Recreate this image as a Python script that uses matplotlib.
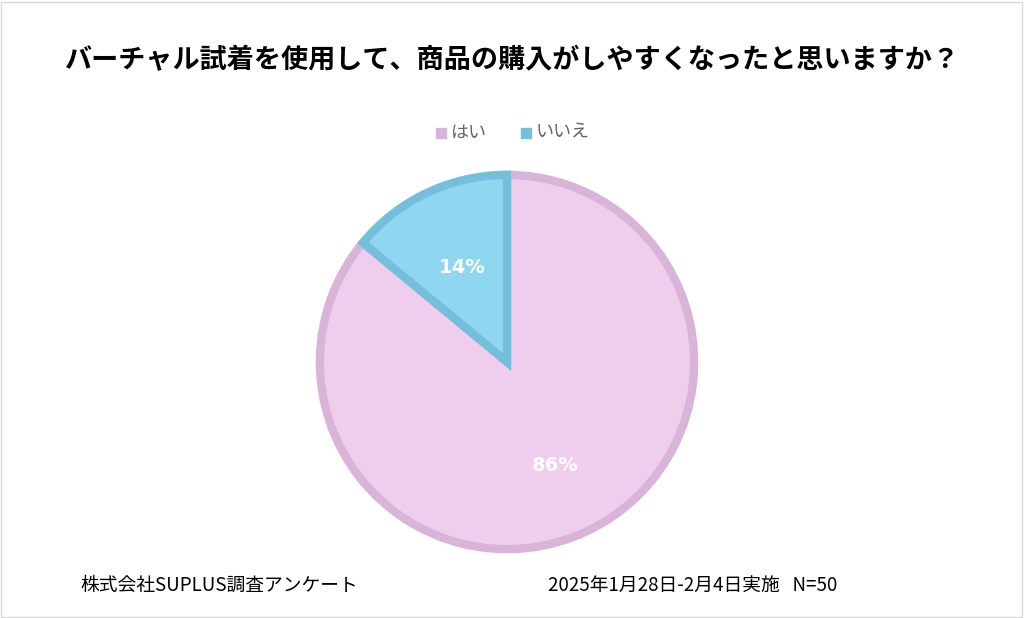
import matplotlib
matplotlib.use("Agg")
import matplotlib.pyplot as plt
from matplotlib.patches import Rectangle

plt.rcParams['font.family'] = ['Noto Sans CJK JP', 'DejaVu Sans']

labels = ['はい', 'いいえ']
values = [86, 14]
fills = ['#EFCDEC', '#8FD6F0']
edges = ['#D9B4D8', '#74C0DC']
title = 'バーチャル試着を使用して、商品の購入がしやすくなったと思いますか？'
footer_left = '株式会社SUPLUS調査アンケート'
footer_right = '2025年1月28日-2月4日実施   N=50'

fig = plt.figure(figsize=(10.24, 6.18), dpi=100)
fig.patches.append(Rectangle((0.001, 0.002), 0.997, 0.995, transform=fig.transFigure,
                             fill=False, edgecolor='#D9D9D9', linewidth=1))

ax = fig.add_axes([(507-190)/1024, (618-552)/618, 380/1024, 380/618])
wedges, texts = ax.pie(values, colors=fills, startangle=90, counterclock=False, radius=0.985,
                       wedgeprops=dict(linewidth=6, joinstyle='miter'))
for w, e in zip(wedges, edges):
    w.set_edgecolor(e)
import numpy as np
ang = 90
for v, w in zip(values, wedges):
    mid = np.deg2rad(ang - v*3.6/2)
    ang -= v*3.6
    r = 0.55 if v < 50 else 0.6
    ax.text(r*np.cos(mid), r*np.sin(mid), f'{v}%', ha='center', va='center',
            color='white', fontsize=14, fontweight='bold', family=['DejaVu Sans'])
ax.set_xlim(-1, 1); ax.set_ylim(-1, 1); ax.set_aspect('equal'); ax.axis('off')

fig.text(0.5, 1-60/618, title, ha='center', va='center', fontsize=19.5, fontweight='bold')

# legend
ly = 1-133/618
for x0, lab, c in [(436, labels[0], edges[0]), (521, labels[1], edges[1])]:
    fig.patches.append(Rectangle((x0/1024, ly-5/618), 10/1024, 10/618,
                                 transform=fig.transFigure, color=c))
    fig.text((x0+15)/1024, ly, lab, ha='left', va='center', fontsize=13, color='#666666')

fig.text(80/1024, 1-585/618, footer_left, ha='left', va='center', fontsize=13.5)
fig.text(548/1024, 1-585/618, footer_right, ha='left', va='center', fontsize=13.5)

fig.savefig('out.png', dpi=100, facecolor='white')
